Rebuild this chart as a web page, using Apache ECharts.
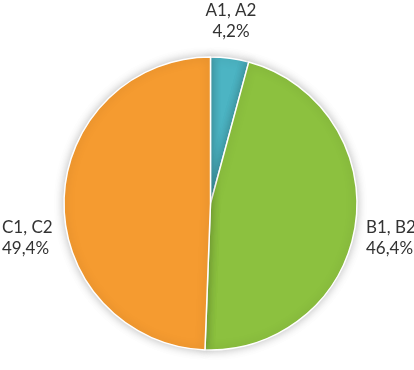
<!DOCTYPE html>
<html>
<head>
<meta charset="utf-8">
<script src="https://cdn.jsdelivr.net/npm/echarts@6/dist/echarts.min.js"></script>
<style>
html,body{margin:0;padding:0;background:#fff;}
#chart{width:414px;height:370px;}
</style>
</head>
<body>
<div id="chart"></div>
<script>
const categories = ['A1, A2', 'B1, B2', 'C1, C2'];
const values = [4.2, 46.4, 49.4];
const colors = ['#4CB4C3', '#8CC13F', '#F59B30'];

// label anchor points (text placement only)
const labelPos = [
  {x: 231, y: 21, align: 'center'},
  {x: 366, y: 238, align: 'left'},
  {x: 2, y: 238, align: 'left'}
];

const chart = echarts.init(document.getElementById('chart'), null, {renderer: 'canvas'});
chart.setOption({
  animation: false,
  backgroundColor: '#fff',
  series: [{
    type: 'pie',
    center: [210.5, 203.5],
    radius: 146.5,
    startAngle: 90,
    clockwise: true,
    avoidLabelOverlap: false,
    data: categories.map((c, i) => ({name: c, value: values[i], itemStyle: {color: colors[i]}})),
    itemStyle: {
      borderColor: '#fff',
      borderWidth: 1.5,
      shadowBlur: 10,
      shadowColor: 'rgba(0,0,0,0.25)'
    },
    label: {
      show: true,
      position: 'inside',
      overflow: 'none',
      formatter: p => p.name + '\n' + p.value.toFixed(1).replace('.', ',') + '%',
      fontFamily: 'Lato',
      fontSize: 17,
      lineHeight: 21,
      color: '#333'
    },
    labelLine: {show: false},
    labelLayout: function (params) {
      const p = labelPos[params.dataIndex];
      return {x: p.x, y: p.y, align: p.align, verticalAlign: 'middle', hideOverlap: false};
    }
  }]
});
</script>
</body>
</html>
